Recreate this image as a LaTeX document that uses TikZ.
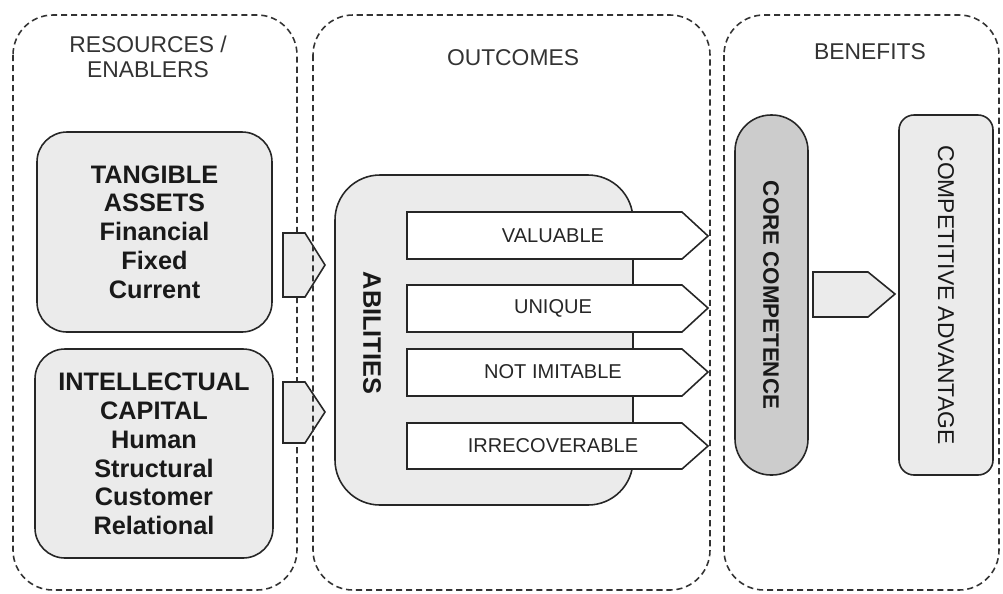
\documentclass[tikz,border=0pt]{standalone}
\usepackage{fontspec}
\setmainfont{Liberation Sans}
\begin{document}
\begin{tikzpicture}[x=0.02cm,y=-0.02cm,
  zone/.style={draw=black!80,dash pattern=on 3.5pt off 2.2pt,line width=0.9pt,rounded corners=0.8cm},
  blockbox/.style={draw=black!85,line width=0.9pt,fill=black!8},
  tagbox/.style={draw=black!85,line width=0.9pt,fill=white},
  headtext/.style={font=\fontsize{13}{14.5}\selectfont,text=black!80,align=center},
  boxtext/.style={font=\fontsize{14.4}{16.4}\selectfont\bfseries,text=black!90,align=center},
  tagtext/.style={font=\fontsize{11.4}{13}\selectfont,text=black!85}]
\useasboundingbox (0,0) rectangle (1003,593);
%
\draw[zone] (13,15) rectangle (297,590);
\node[headtext] (reslabel) at (148,57) {RESOURCES /\\ENABLERS};
%
\draw[blockbox,rounded corners=0.6cm] (37,132) rectangle (272,332);
\node[boxtext] (tangible) at (154.5,232) {TANGIBLE\\ASSETS\\Financial\\Fixed\\Current};
\draw[blockbox,rounded corners=0.6cm] (35,349) rectangle (273,558);
\node[boxtext] (intellect) at (154,454) {INTELLECTUAL\\CAPITAL\\Human\\Structural\\Customer\\Relational};
\draw[blockbox] (283,233) -- (305,233) -- (325,265) -- (305,297) -- (283,297) -- cycle;
\draw[blockbox] (283,382) -- (305,382) -- (325,412) -- (305,443) -- (283,443) -- cycle;
%
\draw[zone] (313,15) rectangle (710,590);
\node[headtext] (outlabel) at (513,58) {OUTCOMES};
%
\draw[blockbox,rounded corners=0.9cm] (335,175) rectangle (633,505);
\node[boxtext,rotate=-90] (abilities) at (372,333) {ABILITIES};
\draw[tagbox] (407,212) -- (682,212) -- (708,236) -- (682,259) -- (407,259) -- cycle;
\node[tagtext] (valuable) at (553,236) {VALUABLE};
\draw[tagbox] (407,285) -- (682,285) -- (708,308) -- (682,332) -- (407,332) -- cycle;
\node[tagtext] (unique) at (553,308) {UNIQUE};
\draw[tagbox] (407,349) -- (682,349) -- (708,372) -- (682,396) -- (407,396) -- cycle;
\node[tagtext] (notimit) at (553,372) {NOT IMITABLE};
\draw[tagbox] (407,423) -- (682,423) -- (708,446) -- (682,469) -- (407,469) -- cycle;
\node[tagtext] (irrecov) at (553,446) {IRRECOVERABLE};
%
\draw[zone] (724,15) rectangle (999,590);
\node[headtext] (benlabel) at (870,52) {BENEFITS};
%
\draw[blockbox,fill=black!20,rounded corners=0.72cm] (735,115) rectangle (808,475);
\node[boxtext,font=\fontsize{12.7}{15}\selectfont\bfseries,rotate=-90] (core) at (771,295) {CORE COMPETENCE};
\draw[blockbox] (813,272) -- (868,272) -- (895,294) -- (868,317) -- (813,317) -- cycle;
\draw[blockbox,rounded corners=0.3cm] (899,115) rectangle (993,475);
\node[headtext,text=black!90,rotate=-90] (compadv) at (946,295) {COMPETITIVE ADVANTAGE};
\end{tikzpicture}
\end{document}
